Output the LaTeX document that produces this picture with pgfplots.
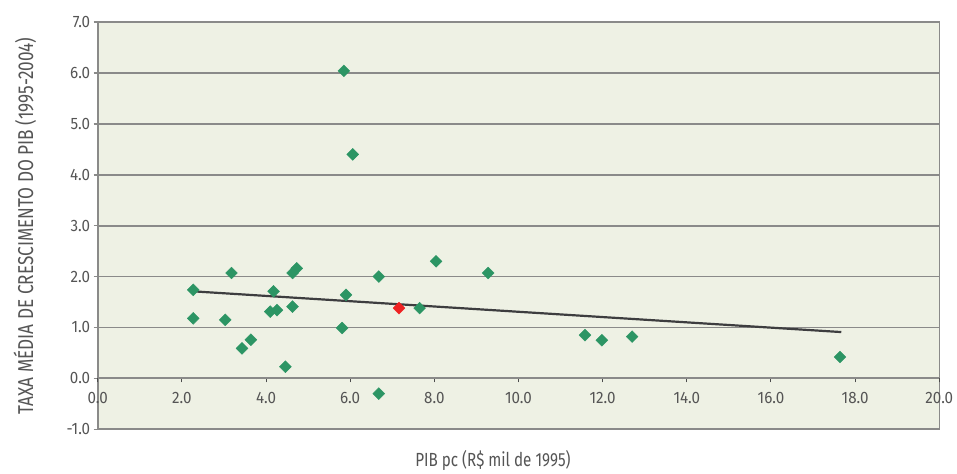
\documentclass[border=0pt]{standalone}
\usepackage{fontspec}
\setmainfont{Fira Sans}[FakeStretch=0.8]
\newfontfamily\tickfont{Fira Sans}[FakeStretch=0.92]
\usepackage{pgfplots}
\pgfplotsset{compat=1.18}
\definecolor{bgc}{HTML}{EEF1E4}
\definecolor{gridc}{HTML}{8A8A89}
\definecolor{markc}{HTML}{2C9564}
\definecolor{redc}{HTML}{EE2222}
\definecolor{trendc}{HTML}{3D3D3F}
\definecolor{txtc}{HTML}{555555}

\begin{document}
\begin{tikzpicture}
% box, background, horizontal grid and y ticks
\begin{axis}[
    scale only axis,
    width=841.6pt, height=407.3pt,
    xmin=0, xmax=20, ymin=-1, ymax=7,
    xtick=\empty,
    ytick={-1,0,...,7},
    ytick pos=left,
    tick align=outside,
    major tick length=4pt,
    ymajorgrids,
    grid style={draw=gridc, line width=1.8pt},
    axis line style={draw=gridc, line width=1.6pt},
    tick style={draw=gridc, line width=1.6pt},
    axis background/.style={fill=bgc},
    yticklabel style={font=\tickfont\fontsize{16.5}{18}\selectfont, text=txtc,
        /pgf/number format/.cd, fixed, fixed zerofill, precision=1, assume math mode=true},
    clip=false,
]
\addplot[only marks, mark=square*, mark size=4.2pt,
    mark options={rotate=45, fill=markc, draw=markc}] coordinates {
    (2.27,1.74) (2.27,1.18) (3.18,2.07) (3.03,1.15) (3.43,0.59)
    (3.64,0.76) (4.18,1.71) (4.10,1.31) (4.26,1.34) (4.46,0.23)
    (4.63,2.07) (4.73,2.16) (4.63,1.41) (5.90,1.64) (5.81,0.99)
    (6.68,2.00) (6.68,-0.30) (7.65,1.38) (8.04,2.30) (9.28,2.07)
    (11.58,0.85) (11.98,0.75) (12.70,0.82) (17.64,0.42)
    (5.85,6.04) (6.06,4.40)
};
\addplot[only marks, mark=square*, mark size=4.2pt,
    mark options={rotate=45, fill=redc, draw=redc}] coordinates {(7.16,1.38)};
\addplot[no marks, draw=trendc, line width=2.2pt] coordinates {(2.27,1.71) (17.67,0.91)};
\end{axis}
% x axis through zero
\begin{axis}[
    scale only axis,
    width=841.6pt, height=407.3pt,
    xmin=0, xmax=20, ymin=-1, ymax=7,
    axis x line=middle,
    axis y line=none,
    hide obscured x ticks=false,
    xtick={0,2,...,20},
    ytick=\empty,
    tick align=outside,
    major tick length=4pt,
    axis line style={draw=gridc, line width=1.8pt, -},
    tick style={draw=black!70, line width=1pt},
    xticklabel style={font=\tickfont\fontsize{16.5}{18}\selectfont, text=txtc, yshift=-6pt,
        /pgf/number format/.cd, fixed, fixed zerofill, precision=1, assume math mode=true},
]
\end{axis}
\node[text=txtc, font=\fontsize{19}{21}\selectfont] at (395.3pt,-30.7pt) {PIB pc (R\$ mil de 1995)};
\node[text=txtc, rotate=90, font=\fontsize{21.5}{24}\selectfont] at (-72.7pt,203.3pt) {TAXA MÉDIA DE CRESCIMENTO DO PIB (1995-2004)};
\path[use as bounding box] (-97.7pt,-38.7pt) rectangle (859.3pt,429.3pt);
\end{tikzpicture}
\end{document}
